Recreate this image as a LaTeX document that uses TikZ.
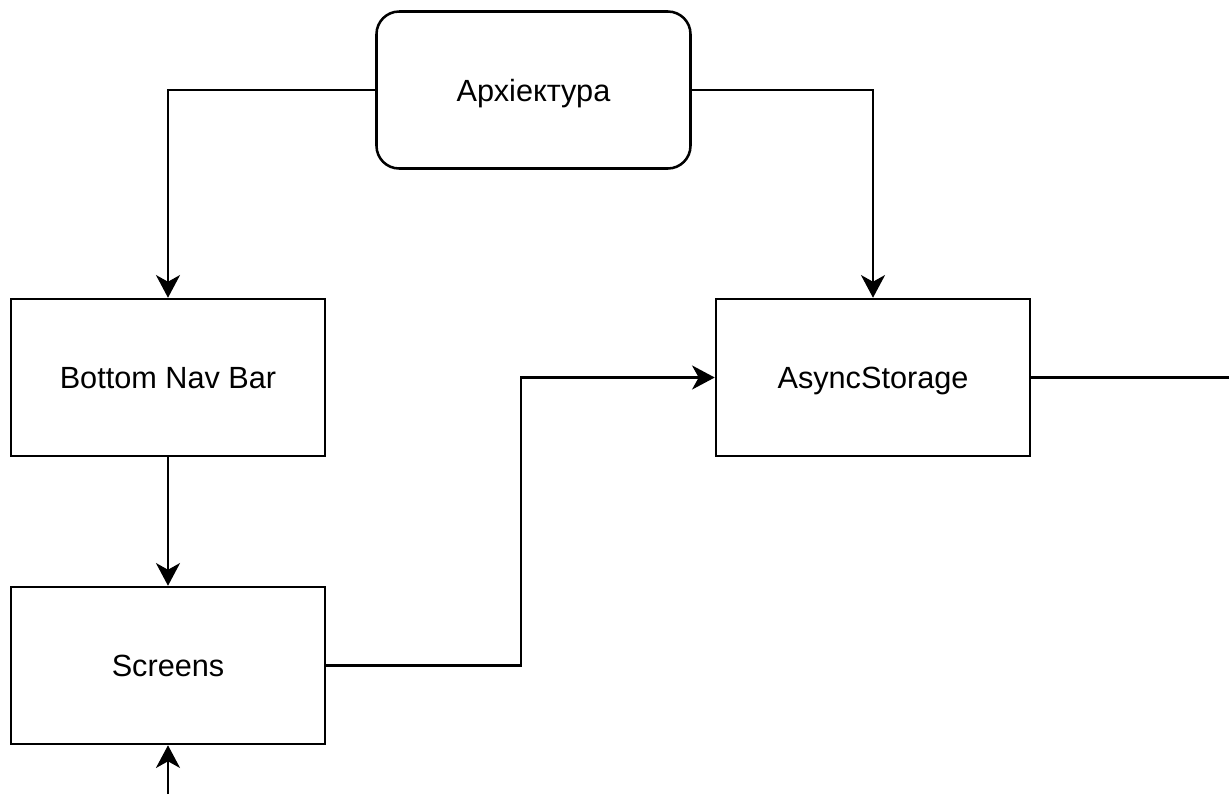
\documentclass[tikz,border=0pt]{standalone}
\usepackage{fontspec}
\setmainfont{Liberation Sans}
\usetikzlibrary{arrows.meta}
\tikzset{
  box/.style={draw=black, line width=1.9pt, fill=white, minimum width=235.5pt, minimum height=117.75pt, inner sep=0pt, text height=16.5pt, text depth=0pt, font=\fontsize{23}{28}\selectfont},
  rbox/.style={box, rounded corners=17pt},
  conn/.style={line width=1.9pt, -{Stealth[length=17pt, width=18pt, inset=5pt]}},
  plain/.style={line width=1.9pt}
}
\begin{document}
\begin{tikzpicture}[x=0.75pt, y=-0.75pt]
  \useasboundingbox (0,0) rectangle (1229,794);
  \node[rbox] (arch) at (533.5,90) {Архіектура};
  \node[box] (bnb) at (168,377.5) {Bottom Nav Bar};
  \node[box] (scr) at (168,665.5) {Screens};
  \node[box] (async) at (873,377.5) {AsyncStorage};
  \coordinate (bot) at (168,794);
  \coordinate (right) at (1229,377.5);
  \draw[conn] (arch.west) -| (bnb.north);
  \draw[conn] (arch.east) -| (async.north);
  \draw[conn] (bnb.south) -- (scr.north);
  \draw[conn] (scr.east) -- (521,665.5) |- (async.west);
  \draw[conn] (bot) -- (scr.south);
  \draw[plain] (async.east) -- (right);
\end{tikzpicture}
\end{document}
